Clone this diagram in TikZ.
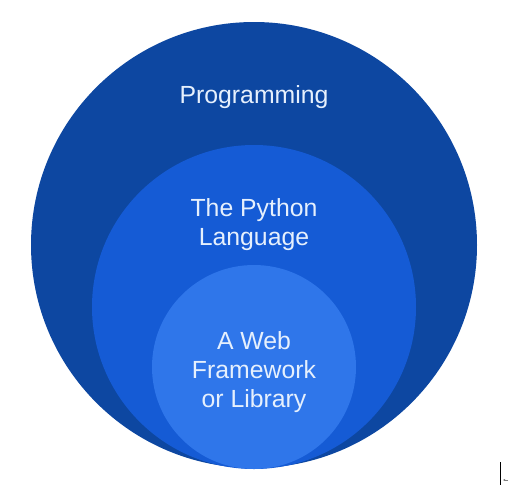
\documentclass[tikz,border=0pt]{standalone}
\usepackage{fontspec}
\usetikzlibrary{arrows.meta}
\setmainfont{Liberation Sans}
\definecolor{outerblue}{HTML}{0D47A1}
\definecolor{midblue}{HTML}{155BD5}
\definecolor{innerblue}{HTML}{2F76EA}
\definecolor{labeltext}{HTML}{E6F0FD}
\begin{document}
\begin{tikzpicture}[x=1pt,y=-1pt,
  ring/.style={circle, inner sep=0pt, draw=none},
  label/.style={text=labeltext, font=\fontsize{24.8}{29}\selectfont, align=center, inner sep=0pt}]
\useasboundingbox (0,0) rectangle (509,485);
\fill[white] (0,0) rectangle (509,485);
\node[ring, fill=outerblue, minimum size=446pt] (outer) at (254,245) {};
\node[ring, fill=midblue, minimum size=324pt] (mid) at (254,307) {};
\node[ring, fill=innerblue, minimum size=204pt] (inner) at (254,367) {};
\node[label, anchor=base] (prog) at (254,103.5) {Programming};
\node[label, anchor=base] (py) at (254,245) {The Python\\Language};
\node[label, anchor=base] (web) at (254,407) {A Web\\Framework\\or Library};
\coordinate (curtop) at (500.5,462);
\coordinate (curbot) at (500.5,485);
\draw[black, line width=0.8pt] (curtop) -- (curbot);
\coordinate (arrR) at (508,480);
\coordinate (arrL) at (503,480);
\draw[gray, line width=0.6pt, -{Latex[length=2pt,width=2.5pt]}] (arrR) -- (arrL);
\end{tikzpicture}
\end{document}
